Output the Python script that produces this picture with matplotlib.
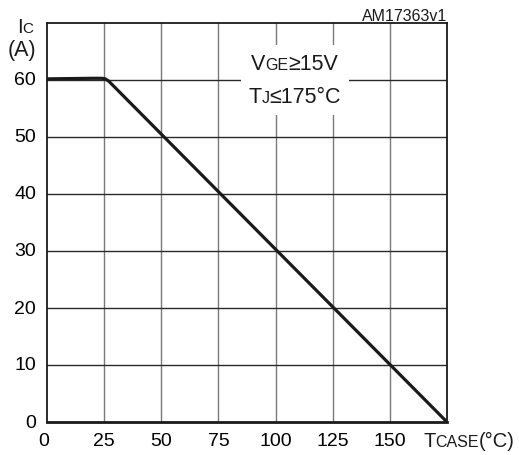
import matplotlib
matplotlib.use('Agg')
import matplotlib.pyplot as plt
import matplotlib.transforms as mtransforms
from matplotlib.offsetbox import TextArea, HPacker, VPacker, AnnotationBbox

plt.rcParams['font.family'] = ['Liberation Sans', 'DejaVu Sans']

# derating curve: collector current vs case temperature
t_case = [0, 10, 20, 24, 25.5, 27, 175]
i_c = [60.2, 60.25, 60.3, 60.3, 60.2, 59.8, 0]

x_ticks = [0, 25, 50, 75, 100, 125, 150]
y_ticks = [0, 10, 20, 30, 40, 50, 60]

W, H = 519, 456
fig = plt.figure(figsize=(W / 100, H / 100), dpi=100)
ax = fig.add_axes([47 / W, 1 - 423 / H, 400 / W, 399 / H])
ax.set_xlim(0, 175)
ax.set_ylim(0, 70)

for x in x_ticks[1:] + [175]:
    ax.axvline(x, color='#7a7a7a', linewidth=1.0, zorder=1)
for y in y_ticks[1:]:
    ax.axhline(y, color='#2a2a2a', linewidth=1.0, zorder=1)

ax.plot(t_case, i_c, color='#1a1a1a', linewidth=2.3, solid_capstyle='butt', zorder=4)

for side in ['top', 'left', 'right']:
    ax.spines[side].set_linewidth(1.3)
    ax.spines[side].set_color('#1a1a1a')
ax.spines['bottom'].set_linewidth(2.0)
ax.spines['bottom'].set_color('#1a1a1a')

ax.set_xticks(x_ticks)
ax.set_xticklabels([str(v) for v in x_ticks])
ax.set_yticks(y_ticks)
ax.set_yticklabels([str(v) for v in y_ticks])
ax.tick_params(length=0, labelsize=14)
ax.tick_params(axis='x', pad=7)
ax.tick_params(axis='y', pad=8)
for lbl in ax.get_yticklabels():
    lbl.set_verticalalignment('center')
# the "0" under the origin sits a little left of the corner
first = ax.xaxis.get_major_ticks()[0].label1
first.set_transform(first.get_transform()
                    + mtransforms.ScaledTranslation(-3 / 100, 0, fig.dpi_scale_trans))


def word(parts, big, small):
    areas = []
    for txt, is_small in parts:
        areas.append(TextArea(txt, textprops=dict(fontsize=small if is_small else big,
                                                  color='#1a1a1a')))
    return HPacker(children=areas, align='baseline', pad=0, sep=0)


def place(box, xy, align):
    ab = AnnotationBbox(box, xy, xycoords='figure pixels', box_alignment=align,
                        frameon=False, pad=0, zorder=5)
    fig.add_artist(ab)
    return ab


# axis labels
place(word([('I', False), ('C', True)], 14.5, 11), (17, H - 37), (0, 0))
place(word([('(A)', False)], 15.5, 11), (8, H - 61), (0, 0))
place(word([('T', False), ('CASE', True), ('(°C)', False)], 14.5, 11.5), (423, H - 451), (0, 0))

# conditions box
cond = VPacker(children=[
    word([('V', False), ('GE', True), ('≥15V', False)], 15.5, 11.5),
    word([('T', False), ('J', True), ('≤175°C', False)], 15.5, 11.5),
], align='center', pad=0, sep=9)
ab = AnnotationBbox(cond, (108.5, 60.0), xycoords='data', box_alignment=(0.5, 0.5),
                    frameon=True, pad=0.55, zorder=3,
                    bboxprops=dict(facecolor='white', edgecolor='none'))
ax.add_artist(ab)

fig.text(447 / W, 1 - 21 / H, 'AM17363v1', ha='right', va='baseline', fontsize=11.5,
         color='#1a1a1a')

fig.savefig('out.png', dpi=100)
